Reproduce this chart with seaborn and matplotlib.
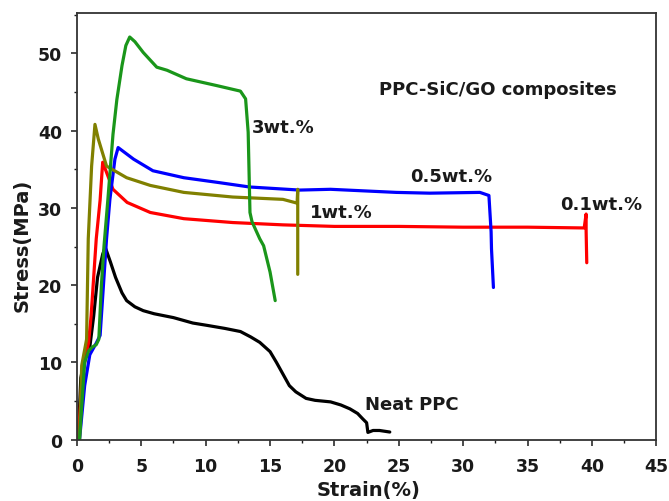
import matplotlib
matplotlib.use("Agg")
import matplotlib.pyplot as plt
from matplotlib.ticker import MultipleLocator
import seaborn as sns
import pandas as pd

# values (strain %, stress MPa)
neat_x = [0.1, 0.3, 0.6, 1.0, 1.3, 1.6, 2.0, 2.2, 2.6, 3.0, 3.5, 3.86, 4.5, 5.15, 6.0, 7.5, 9.0,
          10.1, 11.5, 12.7, 13.5, 14.2, 15.0, 15.5, 16.0, 16.5, 17.0, 17.8, 18.5, 19.7, 20.5,
          21.2, 21.8, 22.2, 22.5, 22.6, 23.0, 23.5, 24.3]
neat_y = [0, 8, 10.5, 12, 16, 21, 24, 24.9, 23, 21, 19, 18.0, 17.2, 16.7, 16.3, 15.8, 15.1,
          14.8, 14.4, 14.0, 13.3, 12.6, 11.4, 10.0, 8.5, 7.0, 6.2, 5.35, 5.1, 4.9, 4.5,
          4.0, 3.4, 2.7, 2.2, 0.95, 1.2, 1.2, 1.0]

w01_x = [0.1, 0.4, 0.7, 0.9, 1.1, 1.5, 1.8, 2.0, 2.8, 3.9, 5.7, 8.3, 12.1, 16.0, 20.0, 25.0,
         30.0, 35.0, 39.4, 39.55, 39.55, 39.6]
w01_y = [0, 8, 11, 12.5, 16, 26, 31, 35.9, 32.4, 30.7, 29.4, 28.6, 28.1, 27.8, 27.6, 27.6,
         27.5, 27.5, 27.4, 29.2, 27.0, 22.9]

w05_x = [0.2, 0.6, 1.0, 1.5, 1.8, 2.3, 2.56, 2.95, 3.2, 4.4, 5.9, 8.3, 10.9, 13.4, 17.3,
         19.7, 24.8, 27.4, 31.3, 32.0, 32.17, 32.2, 32.35]
w05_y = [0, 7, 11, 12.5, 13.5, 26, 31.1, 36.3, 37.8, 36.3, 34.8, 33.9, 33.3, 32.7, 32.3,
         32.4, 32.0, 31.9, 32.0, 31.6, 26.9, 24.7, 19.7]

w1_x = [0.2, 0.37, 0.75, 0.88, 1.14, 1.4, 1.66, 2.3, 3.86, 5.7, 8.3, 12.1, 16.0, 16.9, 17.1,
        17.15, 17.15]
w1_y = [0, 9.6, 13, 26, 35.4, 40.8, 38.9, 35.4, 33.9, 32.9, 32.0, 31.4, 31.1, 30.7, 30.6,
        32.4, 21.4]

w3_x = [0.2, 0.4, 0.6, 0.9, 1.2, 1.5, 1.7, 1.9, 2.1, 2.4, 2.8, 3.1, 3.5, 3.8, 4.1, 4.5,
        5.15, 6.2, 7.0, 8.5, 10.9, 12.7, 13.1, 13.3, 13.44, 13.6, 14.2, 14.5, 15.0, 15.4]
w3_y = [0, 5, 10, 11.5, 12, 12.3, 13, 20, 25, 31, 39.5, 44, 48.4, 51, 52.1, 51.5,
        50.1, 48.2, 47.8, 46.7, 45.8, 45.1, 44.1, 39.8, 29.4, 28.2, 26, 25.1, 21.7, 18]

series = [
    ("Neat PPC", neat_x, neat_y, "black"),
    ("0.1wt.%", w01_x, w01_y, "#ff0000"),
    ("0.5wt.%", w05_x, w05_y, "#0000ff"),
    ("1wt.%", w1_x, w1_y, "#808000"),
    ("3wt.%", w3_x, w3_y, "#1a961a"),
]

labels = ["3wt.%", "0.5wt.%", "1wt.%", "0.1wt.%", "Neat PPC", "PPC-SiC/GO composites"]
label_x = [13.6, 25.9, 18.1, 37.5, 22.4, 23.5]
label_y = [40.5, 34.1, 29.4, 30.5, 4.6, 45.4]

sns.set_style("ticks")
plt.rcParams["font.family"] = ["DejaVu Sans"]

fig = plt.figure(figsize=(6.69, 5.02), dpi=100)
ax = fig.add_axes([0.115, 0.122, 0.866, 0.850])

for name, xs, ys, col in series:
    df = pd.DataFrame({"strain": xs, "stress": ys})
    sns.lineplot(data=df, x="strain", y="stress", sort=False, color=col, lw=2.3,
                 estimator=None, ax=ax)

for t, x, y in zip(labels, label_x, label_y):
    ax.text(x, y, t, fontsize=13, fontweight="bold", va="center", ha="left", color="#1a1a1a")

ax.set_xlim(0, 45)
ax.set_ylim(0, 55.2)
ax.xaxis.set_major_locator(MultipleLocator(5))
ax.xaxis.set_minor_locator(MultipleLocator(2.5))
ax.yaxis.set_major_locator(MultipleLocator(10))
ax.yaxis.set_minor_locator(MultipleLocator(5))
ax.tick_params(which="major", length=4.5, width=1.1, labelsize=12.5, colors="#1a1a1a")
ax.tick_params(which="minor", length=2.5, width=1.0, colors="#1a1a1a")
ax.tick_params(axis="x", which="major", pad=8)
ax.tick_params(axis="y", which="major", pad=6)
ax.tick_params(top=False, right=False, which="both")
for lbl in ax.get_xticklabels() + ax.get_yticklabels():
    lbl.set_fontweight("bold")
for s in ax.spines.values():
    s.set_linewidth(1.3)
    s.set_color("#333333")

ax.set_xlabel("Strain(%)", fontsize=14, fontweight="bold", color="#1a1a1a")
ax.set_ylabel("Stress(MPa)", fontsize=14, fontweight="bold", color="#1a1a1a")
ax.xaxis.set_label_coords(0.503, -0.095)
ax.yaxis.set_label_coords(-0.078, 0.459)

fig.savefig("out.png", dpi=100)
